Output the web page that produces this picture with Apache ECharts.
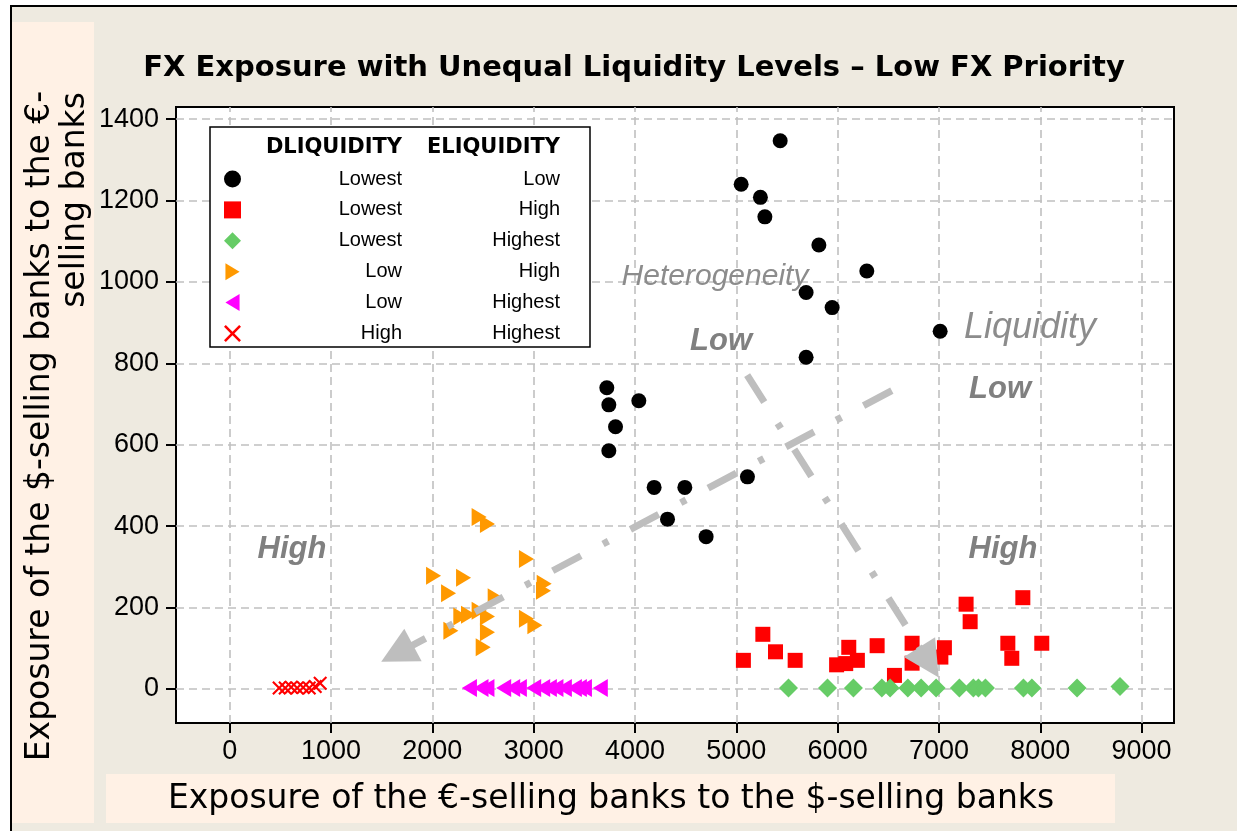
<!DOCTYPE html>
<html>
<head>
<meta charset="utf-8">
<script src="https://cdn.jsdelivr.net/npm/echarts@6/dist/echarts.min.js"></script>
<style>
  html, body { margin: 0; padding: 0; background: #ffffff; }
  #chart { width: 1237px; height: 831px; }
</style>
</head>
<body>
<div id="chart"></div>
<script>
// Legend rows: [DLIQUIDITY, ELIQUIDITY]
const groupLabels = [
  ['Lowest', 'Low'],
  ['Lowest', 'High'],
  ['Lowest', 'Highest'],
  ['Low', 'High'],
  ['Low', 'Highest'],
  ['High', 'Highest']
];

// [exposure of €-sellers to $-sellers, exposure of $-sellers to €-sellers]
const lowestLow = [
  [5433, 1347], [5048, 1240], [5238, 1208], [5282, 1160], [5815, 1091],
  [6288, 1027], [5689, 974], [5946, 937], [7012, 879], [5689, 815],
  [3722, 740], [3742, 698], [4038, 708], [3808, 644], [3742, 585],
  [4189, 495], [4492, 495], [5110, 521], [4321, 417], [4702, 374]
];
const lowestHigh = [
  [5070, 70], [5262, 134], [5387, 91], [5581, 70], [5990, 59],
  [6080, 62], [6110, 102], [6195, 70], [6390, 106], [6561, 33],
  [6735, 112], [6735, 63], [7019, 78], [7054, 101], [7268, 208],
  [7308, 165], [7680, 112], [7719, 75], [7828, 224], [8015, 112]
];
const lowestHighest = [
  [5515, 2], [5900, 2], [6156, 2], [6436, 2], [6518, 2], [6693, 2],
  [6824, 2], [6972, 2], [7202, 2], [7340, 2], [7390, 2], [7459, 2],
  [7834, 2], [7917, 2], [8363, 2], [8787, 6]
];
const lowHigh = [
  [2462, 422], [2544, 405], [2929, 319], [2012, 278], [2308, 273],
  [2160, 235], [3104, 258], [3097, 241], [2620, 225], [2281, 178],
  [2357, 182], [2183, 143], [2462, 192], [2544, 178], [2544, 139],
  [2502, 102], [2929, 172], [3012, 156]
];
const lowHighest = [
  [2366, 2], [2480, 2], [2539, 2], [2704, 2], [2793, 2], [2859, 2],
  [3000, 2], [3089, 2], [3155, 2], [3220, 2], [3303, 2], [3402, 2],
  [3451, 2], [3501, 2], [3658, 2]
];
const highHighest = [
  [488, 2], [548, 2], [607, 4], [666, 2], [725, 3], [785, 2], [844, 6], [893, 14]
];

const xTicks = [0, 1000, 2000, 3000, 4000, 5000, 6000, 7000, 8000, 9000];
const yTicks = [0, 200, 400, 600, 800, 1000, 1200, 1400];

// Direction arrows (data coordinates): heterogeneity and liquidity
const liquidityArrow = [[6535, 733], [1652, 87]];
const heterogeneityArrow = [[5107, 771], [6903, 65]];

const SANS = '"Liberation Sans", Arial, sans-serif';
const VERDANA = '"DejaVu Sans", Verdana, sans-serif';

const triRight = 'path://M0,0 L15,9 L0,18 Z';
const triLeft = 'path://M15,0 L0,9 L15,18 Z';
const cross = 'path://M0,1.5 L1.5,0 L7,5.5 L12.5,0 L14,1.5 L8.5,7 L14,12.5 L12.5,14 L7,8.5 L1.5,14 L0,12.5 L5.5,7 Z';

const seriesData = [lowestLow, lowestHigh, lowestHighest, lowHigh, lowHighest, highHighest];
const symbols = ['circle', 'rect', 'diamond', triRight, triLeft, cross];
const symbolSizes = [15, 15, 19, [15, 18], [15, 18], 14];
const colors = ['#000000', '#ff0000', '#66cc66', '#ff9900', '#ff00ff', '#ff0000'];
const names = groupLabels.map(g => g[0] + ' / ' + g[1]);

const chart = echarts.init(document.getElementById('chart'), null, { renderer: 'canvas' });

const scatterSeries = seriesData.map((d, i) => ({
  name: names[i],
  type: 'scatter',
  data: d,
  symbol: symbols[i],
  symbolSize: symbolSizes[i],
  itemStyle: { color: colors[i], opacity: 1 },
  emphasis: { disabled: true },
  z: 2
}));

const gridLineSeries = {
  name: 'grid',
  type: 'scatter',
  data: [],
  silent: true,
  markLine: {
    silent: true,
    z: 0.5,
    symbol: ['none', 'none'],
    label: { show: false },
    emphasis: { disabled: true },
    lineStyle: { color: '#c0c0c0', width: 1.6, type: [8, 5] },
    data: xTicks.map(v => ({ xAxis: v })).concat(yTicks.map(v => ({ yAxis: v })))
  }
};

const arrowSeries = {
  name: 'arrows',
  type: 'scatter',
  data: [],
  silent: true,
  markLine: {
    silent: true,
    z: 6,
    symbol: ['none', 'triangle'],
    symbolSize: [37, 36],
    label: { show: false },
    emphasis: { disabled: true },
    lineStyle: { color: '#bebebe', width: 7, type: [32, 25, 6, 25], cap: 'butt', opacity: 1 },
    data: [
      [{ coord: liquidityArrow[0] }, { coord: liquidityArrow[1] }],
      [{ coord: heterogeneityArrow[0] }, { coord: heterogeneityArrow[1] }]
    ]
  }
};

function label(text, x, y, font, fill, z) {
  return { type: 'text', x: x, y: y, z: z, silent: true,
    style: { text: text, font: font, fill: fill, align: 'center', verticalAlign: 'middle' } };
}

const plain = v => String(v);

const option = {
  animation: false,
  backgroundColor: '#ffffff',
  grid: {
    left: 176, top: 107, width: 998, height: 616,
    show: true, backgroundColor: '#ffffff', borderColor: '#000000', borderWidth: 2,
    containLabel: false
  },
  xAxis: {
    type: 'value', min: -530, max: 9320,
    axisLine: { onZero: false, lineStyle: { color: '#000', width: 2 } },
    axisTick: { show: true, length: 10, lineStyle: { color: '#000', width: 2 }, customValues: xTicks },
    axisLabel: { customValues: xTicks, formatter: plain, margin: 15, fontSize: 27, fontFamily: SANS, color: '#000' },
    splitLine: { show: false }
  },
  yAxis: {
    type: 'value', min: -84, max: 1430,
    axisLine: { onZero: false, lineStyle: { color: '#000', width: 2 } },
    axisTick: { show: true, length: 10, lineStyle: { color: '#000', width: 2 }, customValues: yTicks },
    axisLabel: { customValues: yTicks, formatter: plain, margin: 17, fontSize: 27, fontFamily: SANS, color: '#000' },
    splitLine: { show: false }
  },
  legend: {
    data: names,
    orient: 'vertical',
    left: 224, top: 169,
    padding: 0,
    itemWidth: 17, itemHeight: 17, itemGap: 10.9,
    selectedMode: false,
    z: 4,
    formatter: function (name) {
      const g = groupLabels[names.indexOf(name)];
      return '{a|' + g[0] + '}{b|' + g[1] + '}';
    },
    textStyle: {
      rich: {
        a: { width: 156, align: 'right', fontSize: 20, fontFamily: SANS, color: '#000', lineHeight: 20 },
        b: { width: 158, align: 'right', fontSize: 20, fontFamily: SANS, color: '#000', lineHeight: 20 }
      }
    }
  },
  graphic: [
    // page background and frame
    { type: 'rect', z: -10, silent: true, shape: { x: 11, y: 6, width: 1300, height: 900 },
      style: { fill: '#eeeae0', stroke: '#000', lineWidth: 2 } },
    { type: 'rect', z: -9, silent: true, shape: { x: 12, y: 22, width: 82, height: 801 },
      style: { fill: '#fff1e5' } },
    { type: 'rect', z: -9, silent: true, shape: { x: 106, y: 774, width: 1009, height: 49 },
      style: { fill: '#fff1e5' } },
    // title
    label('FX Exposure with Unequal Liquidity Levels \u2013 Low FX Priority', 634, 68,
      'bold 29px ' + VERDANA, '#000', 5),
    // axis titles
    label('Exposure of the \u20ac-selling banks to the $-selling banks', 611, 799,
      '33px ' + VERDANA, '#000', 5),
    Object.assign(label('Exposure of the $-selling banks to the \u20ac-', 40, 426,
      '33px ' + VERDANA, '#000', 5), { rotation: Math.PI / 2 }),
    Object.assign(label('selling banks', 75, 200,
      '33px ' + VERDANA, '#000', 5), { rotation: Math.PI / 2 }),
    // legend frame and header
    { type: 'rect', z: 3, silent: true, shape: { x: 210, y: 127, width: 380, height: 220 },
      style: { fill: '#ffffff', stroke: '#000', lineWidth: 1.5 } },
    { type: 'text', x: 402, y: 148, z: 5, silent: true,
      style: { text: 'DLIQUIDITY', font: 'bold 21px ' + VERDANA, fill: '#000', align: 'right', verticalAlign: 'middle' } },
    { type: 'text', x: 560, y: 148, z: 5, silent: true,
      style: { text: 'ELIQUIDITY', font: 'bold 21px ' + VERDANA, fill: '#000', align: 'right', verticalAlign: 'middle' } },
    // annotations
    label('Heterogeneity', 715, 277, 'italic 30px ' + SANS, '#8c8c8c', 1),
    label('Liquidity', 1030, 328, 'italic 36px ' + SANS, '#8c8c8c', 1),
    label('Low', 721, 341, 'italic bold 31px ' + SANS, '#808080', 1),
    label('Low', 1000, 389, 'italic bold 31px ' + SANS, '#808080', 1),
    label('High', 292, 549, 'italic bold 31px ' + SANS, '#808080', 1),
    label('High', 1003, 549, 'italic bold 31px ' + SANS, '#808080', 1)
  ],
  series: [gridLineSeries].concat(scatterSeries).concat([arrowSeries])
};

chart.setOption(option);
</script>
</body>
</html>
